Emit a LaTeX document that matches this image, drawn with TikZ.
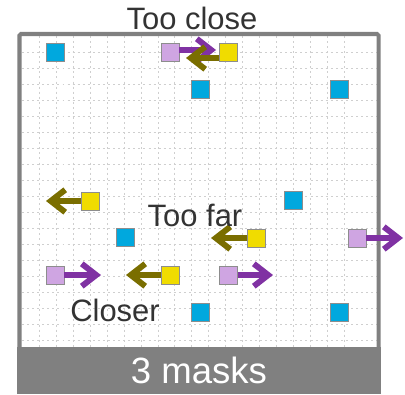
\documentclass[tikz,border=0pt]{standalone}
\usepackage{fontspec}
\setmainfont{Liberation Sans}
\usetikzlibrary{arrows.meta,positioning,calc}

\definecolor{maskgray}{HTML}{808080}
\definecolor{gridgray}{HTML}{CFCFCF}
\definecolor{pixblue}{HTML}{00A8DE}
\definecolor{pixlilac}{HTML}{CFA5E2}
\definecolor{pixyellow}{HTML}{F0DC00}
\definecolor{pushpurple}{HTML}{8032A3}
\definecolor{pullolive}{HTML}{7A6E00}
\definecolor{labelgray}{HTML}{333333}

\tikzset{
  pix/.style={draw=maskgray!90, line width=0.6pt, minimum size=0.45cm, inner sep=0pt},
  bluepix/.style={pix, fill=pixblue},
  lilacpix/.style={pix, fill=pixlilac},
  yellowpix/.style={pix, fill=pixyellow},
  movearrow/.style={line width=4.2pt, -{Straight Barb[length=3.6mm, width=5.6mm]}},
  push/.style={movearrow, pushpurple},
  pull/.style={movearrow, pullolive},
  gridline/.style={gridgray, line width=0.6pt, dash pattern=on 1.4pt off 2.2pt},
  caption/.style={labelgray, font=\fontsize{22}{26}\selectfont, anchor=base},
}

\begin{document}
\begin{tikzpicture}[x={(0.025cm,0)}, y={(0,-0.025cm)}]
    \useasboundingbox (0,0) rectangle (405,394);

    % Mask area with dotted grid
    \fill[white] (19,34) rectangle (379,347);
    \foreach \gx in {1,...,19} {
        \draw[gridline] (22.5+16.93*\gx, 36) -- (22.5+16.93*\gx, 347);
    }
    \foreach \gy in {1,...,19} {
        \draw[gridline] (22, 36+16*\gy) -- (377, 36+16*\gy);
    }
    \draw[maskgray, line width=0.1cm, rounded corners=1pt] (19.5,34) rectangle (378.5,360);
    \node[fill=maskgray, minimum width=9.1cm, minimum height=1.175cm, inner sep=0pt,
          text=white, font=\fontsize{26}{30}\selectfont] (bar) at (199,370.5) {3 masks};

    % Blue squares
    \node[bluepix] (b1) at (55.5,52) {};
    \node[bluepix] (b2) at (200,89) {};
    \node[bluepix] (b3) at (339,89) {};
    \node[bluepix] (b4) at (293,200) {};
    \node[bluepix] (b5) at (125,237.5) {};
    \node[bluepix] (b6) at (200,312) {};
    \node[bluepix] (b7) at (339,312) {};

    % Lilac and yellow squares
    \node[lilacpix] (l1) at (170,52) {};
    \node[yellowpix] (y1) at (228.5,52) {};
    \node[yellowpix] (y2) at (90,201) {};
    \node[yellowpix] (y3) at (256,238) {};
    \node[lilacpix] (l2) at (357,238) {};
    \node[lilacpix] (l3) at (55,275) {};
    \node[yellowpix] (y4) at (170,275) {};
    \node[lilacpix] (l4) at (228.5,275) {};

    % Arrow ends
    \coordinate (t1) at (216,50);
    \coordinate (t2) at (186,58);
    \coordinate (t3) at (46,201);
    \coordinate (t4) at (211,238);
    \coordinate (t5) at (403,238);
    \coordinate (t6) at (101,275);
    \coordinate (t7) at (126,275);
    \coordinate (t8) at (273,275);

    \draw[push] (l1.east |- t1) -- (t1);
    \draw[pull] (y1.west |- t2) -- (t2);
    \draw[pull] (y2.west) -- (t3);
    \draw[pull] (y3.west) -- (t4);
    \draw[push] (l2.east) -- (t5);
    \draw[push] (l3.east) -- (t6);
    \draw[pull] (y4.west) -- (t7);
    \draw[push] (l4.east) -- (t8);

    % Labels
    \node[caption] (close) at (192,30) {Too close};
    \node[caption] (far) at (195,226.5) {Too far};
    \node[caption] (closer) at (115,321) {Closer};
\end{tikzpicture}
\end{document}
